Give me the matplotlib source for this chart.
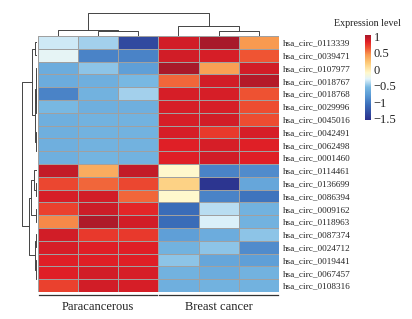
import numpy as np
import matplotlib
matplotlib.use("Agg")
import matplotlib.pyplot as plt
from matplotlib.colors import LinearSegmentedColormap
import matplotlib.transforms as mtransforms

plt.rcParams['font.family'] = ['Liberation Serif', 'DejaVu Serif']

circs = ["hsa_circ_0113339", "hsa_circ_0039471", "hsa_circ_0107977", "hsa_circ_0018767",
         "hsa_circ_0018768", "hsa_circ_0029996", "hsa_circ_0045016", "hsa_circ_0042491",
         "hsa_circ_0062498", "hsa_circ_0001460", "hsa_circ_0114461", "hsa_circ_0136699",
         "hsa_circ_0086394", "hsa_circ_0009162", "hsa_circ_0118963", "hsa_circ_0087374",
         "hsa_circ_0024712", "hsa_circ_0019441", "hsa_circ_0067457", "hsa_circ_0108316"]
groups = ["Paracancerous"] * 3 + ["Breast cancer"] * 3

# expression (z-score) per circRNA: 3 paracancerous, 3 breast cancer
expr = [
    [-0.35, -0.45, -1.35, 0.90, 1.05, 0.45],
    [-0.28, -0.95, -0.95, 0.90, 0.88, 0.65],
    [-0.65, -0.50, -0.75, 1.05, 0.42, 0.90],
    [-0.65, -0.62, -0.55, 0.60, 0.90, 1.00],
    [-0.95, -0.60, -0.45, 0.88, 0.88, 0.66],
    [-0.55, -0.62, -0.62, 0.88, 0.88, 0.68],
    [-0.62, -0.60, -0.60, 0.88, 0.90, 0.68],
    [-0.62, -0.60, -0.60, 0.88, 0.75, 0.88],
    [-0.62, -0.60, -0.60, 0.85, 0.88, 0.85],
    [-0.62, -0.58, -0.60, 0.85, 0.90, 0.85],
    [0.95, 0.35, 0.95, -0.10, -0.95, -0.90],
    [0.70, 0.60, 0.70, 0.15, -1.50, -0.70],
    [0.88, 0.90, 0.60, -0.10, -0.95, -1.05],
    [0.72, 0.92, 0.82, -1.10, -0.40, -0.60],
    [0.50, 1.02, 0.90, -1.10, -0.32, -0.60],
    [0.90, 0.75, 0.75, -0.75, -0.65, -0.50],
    [0.88, 0.85, 0.85, -0.60, -0.50, -0.90],
    [0.85, 0.85, 0.85, -0.50, -0.70, -0.75],
    [0.85, 0.90, 0.88, -0.60, -0.65, -0.60],
    [0.72, 0.90, 0.88, -0.62, -0.60, -0.60],
]

# dendrograms: (left, right, height), leaves are indices
col_tree = ((0, (1, 2, 5), 6), (3, (4, 5, 5), 10), 23)
row_tree = (((0, 1, 2),
             (((2, 3, 1), (4, (5, 6, 0.5), 1.2), 1.8), (7, (8, 9, 0.5), 1), 2.5), 5),
            (((10, (11, 12, 1.5), 3), (13, 14, 1.5), 6),
             ((15, 16, 1), (17, (18, 19, 0.5), 1), 2), 8), 15.5)

vmin, vmax = -1.55, 1.05
anchors = [(-1.55, "#2b2f8c"), (-1.1, "#3a6cb8"), (-0.8, "#5a9ad5"), (-0.55, "#78b8e2"),
           (-0.3, "#e2f4fb"), (-0.1, "#fff8cc"), (0.2, "#fdcb78"), (0.45, "#f89a50"),
           (0.65, "#ef5533"), (0.85, "#e11f26"), (1.05, "#a8192a")]
cmap = LinearSegmentedColormap.from_list(
    "expr", [((v - vmin) / (vmax - vmin), c) for v, c in anchors])

W, H = 412, 319
fig = plt.figure(figsize=(W / 100, H / 100), dpi=100)

def fbox(x0, y0, x1, y1):
    return [x0 / W, 1 - y1 / H, (x1 - x0) / W, (y1 - y0) / H]

ax = fig.add_axes(fbox(37.5, 36, 279, 292))
data = np.array(expr)
ax.pcolormesh(data, cmap=cmap, vmin=vmin, vmax=vmax, edgecolors="#a0a0a0", linewidth=0.4)
ax.set_xlim(0, data.shape[1])
ax.set_ylim(data.shape[0], 0)
for s in ax.spines.values():
    s.set_visible(False)
ax.set_xticks([])
ax.yaxis.tick_right()
ax.set_yticks(np.arange(len(circs)) + 0.5)
ax.set_yticklabels(circs, fontsize=6.6, color="#222222")
ax.tick_params(axis="y", length=0, pad=3)

# group annotation
trans = mtransforms.blended_transform_factory(ax.transData, ax.transAxes)
names = list(dict.fromkeys(groups))
for g in names:
    idx = [i for i, x in enumerate(groups) if x == g]
    a, b = min(idx), max(idx) + 1
    ax.plot([a + 0.03, b - 0.03], [-0.012, -0.012], color="#333333", lw=0.9,
            transform=trans, clip_on=False)
    ax.text((a + b) / 2, -0.057, g, transform=trans, ha="center", va="center",
            fontsize=9, color="#222222")

def draw(node, axd, horiz):
    if isinstance(node, int):
        return node + 0.5, 0
    l, r, h = node
    pl, hl = draw(l, axd, horiz)
    pr, hr = draw(r, axd, horiz)
    if horiz:
        axd.plot([hl, h, h, hr], [pl, pl, pr, pr], color="#444444", lw=0.7)
    else:
        axd.plot([pl, pl, pr, pr], [hl, h, h, hr], color="#444444", lw=0.7)
    return (pl + pr) / 2, h

axc = fig.add_axes(fbox(37.5, 12, 279, 36))
draw(col_tree, axc, False)
axc.set_xlim(0, 6)
axc.set_ylim(0, 23.5)
axc.axis("off")

axr = fig.add_axes(fbox(21.5, 36, 37.5, 292))
draw(row_tree, axr, True)
axr.set_ylim(20, 0)
axr.set_xlim(16, 0)
axr.axis("off")

# colorbar
cax = fig.add_axes(fbox(365, 35, 371, 120))
sm = plt.cm.ScalarMappable(cmap=cmap, norm=plt.Normalize(vmin, vmax))
cb = fig.colorbar(sm, cax=cax, ticks=[1, 0.5, 0, -0.5, -1, -1.5])
cb.outline.set_visible(False)
cb.ax.set_yticklabels(["1", "0.5", "0", "\u22120.5", "\u22121", "\u22121.5"])
cb.ax.tick_params(length=0, pad=2, labelsize=9, colors="#222222")
fig.text(367 / W, 1 - 23 / H, "Expression level", ha="center", va="center",
         fontsize=7.2, color="#222222")

fig.savefig("out.png", dpi=100)
